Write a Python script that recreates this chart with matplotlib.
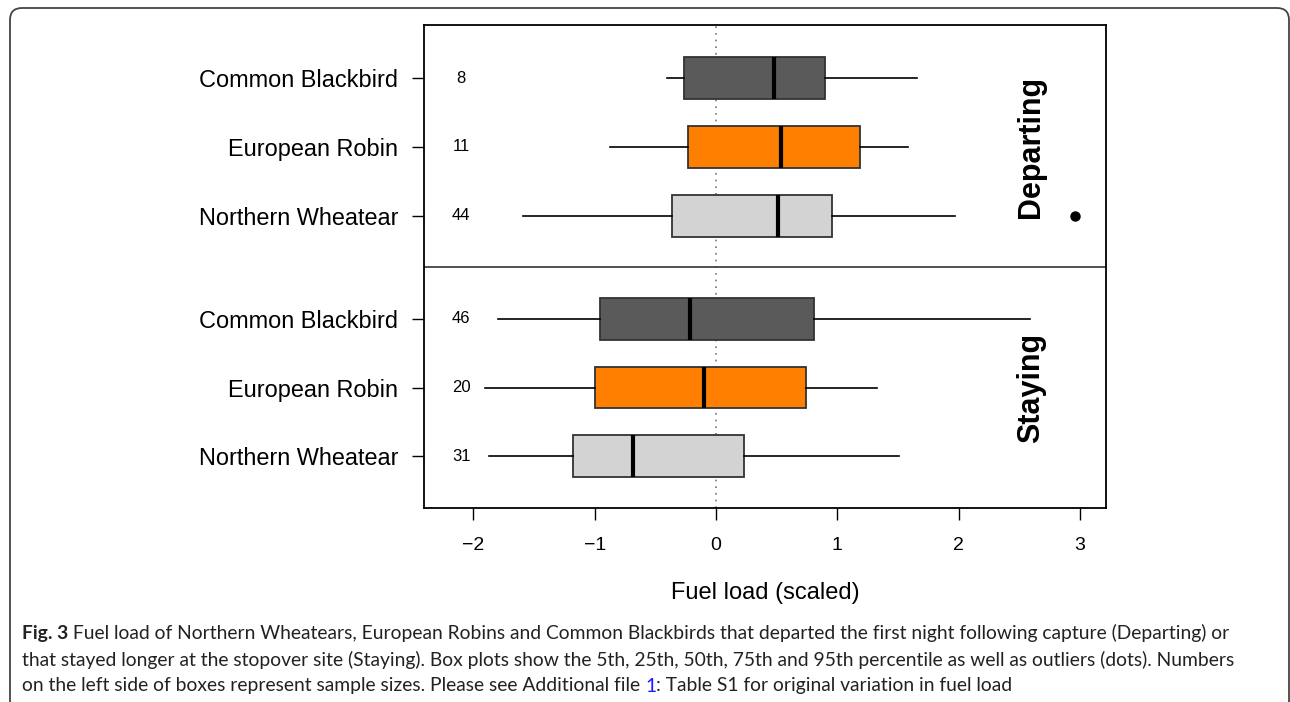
import matplotlib
matplotlib.use("Agg")
import matplotlib.pyplot as plt
from matplotlib.patches import FancyBboxPatch
from matplotlib.transforms import IdentityTransform

# species order from bottom to top inside each group
species = ["Northern Wheatear", "European Robin", "Common Blackbird"]
box_colors = ["#D3D3D3", "#FF7F00", "#5A5A5A"]

# Staying (lower panel)
n_staying = [31, 20, 46]
whislo_staying = [-1.87, -1.90, -1.80]
q1_staying = [-1.18, -1.00, -0.96]
med_staying = [-0.68, -0.10, -0.21]
q3_staying = [0.23, 0.74, 0.81]
whishi_staying = [1.51, 1.33, 2.59]
fliers_staying = [[], [], []]

# Departing (upper panel)
n_departing = [44, 11, 8]
whislo_departing = [-1.59, -0.87, -0.40]
q1_departing = [-0.36, -0.23, -0.26]
med_departing = [0.51, 0.54, 0.48]
q3_departing = [0.96, 1.19, 0.90]
whishi_departing = [1.97, 1.58, 1.66]
fliers_departing = [[2.96], [], []]

xticks = [-2, -1, 0, 1, 2, 3]

plt.rcParams["font.family"] = ["Liberation Sans", "DejaVu Sans"]

fig = plt.figure(figsize=(12.9, 7.02), dpi=100)
ax = fig.add_axes([424 / 1290, 1 - 508.3 / 702, (1105.7 - 424) / 1290, (508.3 - 25) / 702])

pos_staying = [1, 2, 3]
pos_departing = [4.5, 5.5, 6.5]


def make_stats(lo, q1, med, q3, hi, fl):
    return [dict(whislo=a, q1=b, med=c, q3=d, whishi=e, fliers=f)
            for a, b, c, d, e, f in zip(lo, q1, med, q3, hi, fl)]


stats = (make_stats(whislo_staying, q1_staying, med_staying, q3_staying, whishi_staying, fliers_staying)
         + make_stats(whislo_departing, q1_departing, med_departing, q3_departing, whishi_departing, fliers_departing))
positions = pos_staying + pos_departing

ax.axvline(0, color="#777777", lw=1.2, ls=(0, (1, 3)), zorder=0)

bp = ax.bxp(stats, positions=positions, widths=0.61, orientation="horizontal",
            patch_artist=True, showcaps=False,
            boxprops=dict(edgecolor="#333333", linewidth=1.3),
            whiskerprops=dict(color="black", linewidth=1.2, linestyle="-"),
            medianprops=dict(color="black", linewidth=3, solid_capstyle="butt"),
            flierprops=dict(marker="o", markerfacecolor="black", markeredgecolor="black", markersize=6.5))
for patch, col in zip(bp["boxes"], box_colors * 2):
    patch.set_facecolor(col)
    patch.set_zorder(2)

ax.axhline(3.75, color="#444444", lw=1.3)

# sample sizes
for p, n in zip(positions, n_staying + n_departing):
    ax.text(-2.1, p, str(n), ha="center", va="center", fontsize=12)

ax.text(2.6, 5.5, "Departing", rotation=90, ha="center", va="center", fontsize=22, weight="bold")
ax.text(2.6, 2, "Staying", rotation=90, ha="center", va="center", fontsize=22, weight="bold")

ax.set_xlim(-2.407, 3.213)
ax.set_ylim(0.243, 7.274)
ax.set_yticks(positions)
ax.set_yticklabels(species * 2, fontsize=16.9)
ax.set_xticks(xticks)
ax.set_xticklabels([f"\u2212{abs(t)}" if t < 0 else str(t) for t in xticks], fontsize=14)
ax.tick_params(axis="y", length=8.5, width=1, pad=10)
ax.tick_params(axis="x", length=8.5, width=1, pad=12)
ax.set_xlabel("Fuel load (scaled)", fontsize=17, labelpad=20)
for s in ax.spines.values():
    s.set_linewidth(1.3)

# caption
cap_font = ["Lato", "DejaVu Sans"]
cap_size = 13.9
t = fig.text(22 / 1290, 1 - 634 / 702, "Fig. 3", fontsize=cap_size, weight="bold",
             family=cap_font, va="center", color="#222222")
ax.annotate(" Fuel load of Northern Wheatears, European Robins and Common Blackbirds that departed "
            "the first night following capture (Departing) or",
            xy=(1, 0), xycoords=t, va="bottom", ha="left", fontsize=cap_size,
            family=cap_font, color="#222222", annotation_clip=False)
fig.text(22 / 1290, 1 - 660 / 702,
         "that stayed longer at the stopover site (Staying). Box plots show the 5th, 25th, 50th, 75th "
         "and 95th percentile as well as outliers (dots). Numbers",
         fontsize=cap_size, family=cap_font, va="center", color="#222222")
t3 = fig.text(22 / 1290, 1 - 686 / 702,
              "on the left side of boxes represent sample sizes. Please see Additional file ",
              fontsize=cap_size, family=cap_font, va="center", color="#222222")
t4 = ax.annotate("1", xy=(1, 0), xycoords=t3, va="bottom", ha="left", fontsize=cap_size,
                 family=cap_font, color="#1a1aff", annotation_clip=False)
ax.annotate(": Table S1 for original variation in fuel load", xy=(1, 0), xycoords=t4,
            va="bottom", ha="left", fontsize=cap_size, family=cap_font, color="#222222",
            annotation_clip=False)

# rounded frame around the figure
frame = FancyBboxPatch((10, -20), 1279, 702 - 8 + 20, boxstyle="round,pad=0,rounding_size=12",
                       transform=IdentityTransform(), facecolor="none", edgecolor="#444444",
                       linewidth=1.3)
fig.patches.append(frame)

fig.savefig("out.png", dpi=100)
